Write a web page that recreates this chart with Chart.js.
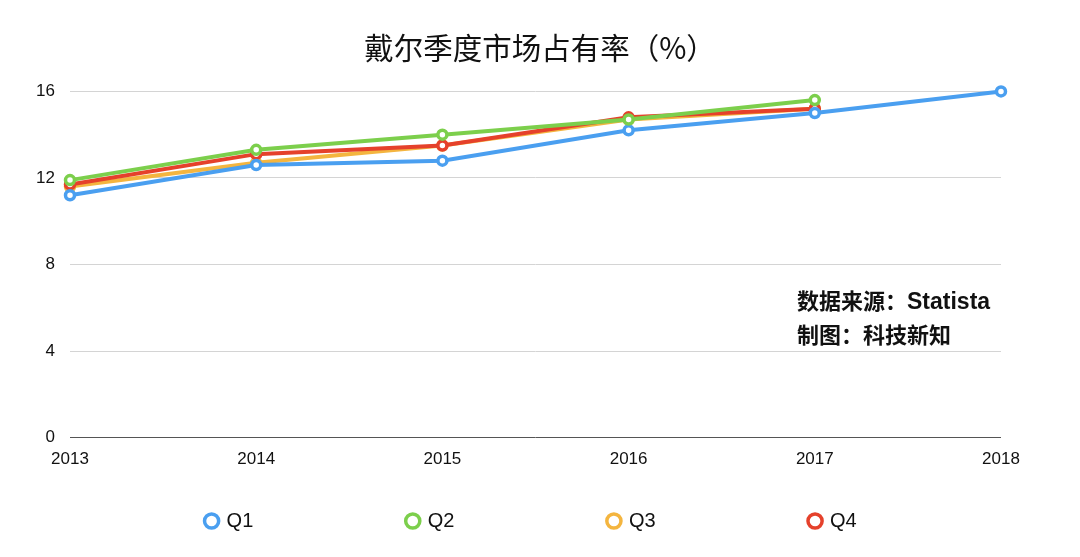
<!DOCTYPE html>
<html>
<head>
<meta charset="utf-8">
<script src="https://cdn.jsdelivr.net/npm/chart.js@4/dist/chart.umd.min.js"></script>
<style>
    html, body { margin: 0; padding: 0; background: #fff; }
    #wrap { position: relative; width: 1080px; height: 557px; }
    #note {
        position: absolute; left: 797px; top: 283px;
        font-family: "Noto Sans CJK SC", "Noto Sans", sans-serif;
        font-weight: bold; font-size: 22px; line-height: 32px; color: #111;
    }
    #note span { font-family: "Liberation Sans", Arial, sans-serif; font-size: 23px; }
</style>
</head>
<body>
<div id="wrap">
    <canvas id="dellShareChart" width="1080" height="557"></canvas>
    <div id="note">数据来源：<span>Statista</span><br>制图：科技新知</div>
</div>
<script>
const years = ['2013', '2014', '2015', '2016', '2017', '2018'];
const yTicks = [0, 4, 8, 12, 16];
const q1 = [11.2, 12.6, 12.8, 14.2, 15.0, 16.0];
const q2 = [11.9, 13.3, 14.0, 14.7, 15.6, null];
const q3 = [11.6, 12.7, 13.5, 14.7, 15.2, null];
const q4 = [11.7, 13.1, 13.5, 14.8, 15.2, null];

const font = '"Liberation Sans", Arial, sans-serif';

function series(label, data, color, order) {
    return {
        label: label,
        data: data,
        order: order,
        borderColor: color,
        backgroundColor: '#fff',
        borderWidth: 4,
        pointRadius: 4.5,
        pointBorderWidth: 3.5,
        pointBackgroundColor: '#fff',
        pointBorderColor: color,
        tension: 0,
        clip: false
    };
}

const ctx = document.getElementById('dellShareChart').getContext('2d');
new Chart(ctx, {
    type: 'line',
    data: {
        labels: years,
        // lower order is drawn on top: Q2 over Q1 over Q4 over Q3
        datasets: [
            series('Q1', q1, '#4a9ff0', 1),
            series('Q2', q2, '#7ccf4c', 0),
            series('Q3', q3, '#f4b53f', 3),
            series('Q4', q4, '#e5412b', 2)
        ]
    },
    options: {
        responsive: false,
        animation: false,
        layout: { padding: { top: 0, right: 0, bottom: 16, left: 0 } },
        plugins: {
            title: {
                display: true,
                text: '戴尔季度市场占有率（%）',
                font: { family: '"Noto Sans CJK SC", sans-serif', size: 29.5, weight: 'normal' },
                color: '#111',
                padding: { top: 30, bottom: 26 }
            },
            legend: {
                position: 'bottom',
                labels: {
                    usePointStyle: true,
                    pointStyle: 'circle',
                    boxWidth: 10,
                    boxHeight: 10,
                    padding: 10,
                    color: '#111',
                    font: { family: font, size: 20 },
                    // trailing spaces widen the gap between items
                    generateLabels: chart => chart.data.datasets.map((d, i, all) => ({
                        text: d.label + ' '.repeat(i < all.length - 1 ? 26 : 3),
                        fillStyle: '#fff',
                        strokeStyle: d.borderColor,
                        lineWidth: 3.5,
                        pointStyle: 'circle',
                        datasetIndex: i,
                        fontColor: '#111'
                    }))
                }
            },
            tooltip: { enabled: false }
        },
        scales: {
            x: {
                type: 'category',
                offset: false,
                afterFit: scale => { scale.height += 19; },
                grid: { display: false, drawTicks: false },
                border: { display: false },
                ticks: { color: '#111', font: { family: font, size: 17 }, padding: 12, maxRotation: 0 }
            },
            y: {
                min: 0,
                max: 16,
                afterBuildTicks: scale => { scale.ticks = yTicks.map(v => ({ value: v })); },
                afterFit: scale => { scale.width = 70; },
                grid: {
                    drawTicks: false,
                    color: ctx => ctx.tick.value === 0 ? '#555' : '#d4d4d4',
                    lineWidth: 1
                },
                border: { display: false },
                ticks: { color: '#111', font: { family: font, size: 17 }, padding: 15 }
            },
            // empty right gutter so title and legend stay centred on the page
            gutter: {
                position: 'right',
                afterFit: scale => { scale.width = 79; },
                grid: { display: false, drawTicks: false },
                border: { display: false },
                ticks: { display: false }
            }
        }
    }
});
</script>
</body>
</html>
